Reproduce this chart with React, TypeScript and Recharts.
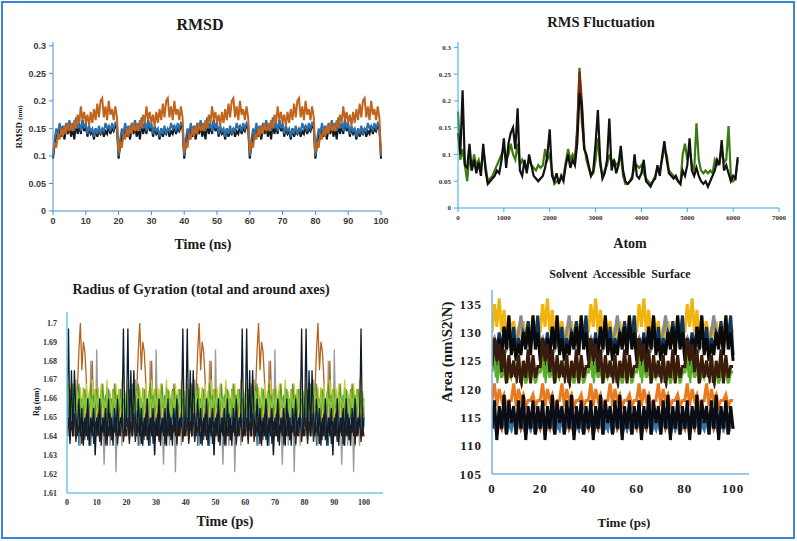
import React from 'react';
import { LineChart, Line, XAxis, YAxis } from 'recharts';

// ---- RMSD (nm): one 20 ns block at 0.5 ns steps, the trace repeats it five times ----
const RMSD_STEP = 0.5;
const RMSD_BLUE_BLOCK = [0.100, 0.130, 0.150, 0.140, 0.160, 0.145, 0.155, 0.140, 0.160, 0.150, 0.165, 0.150, 0.160, 0.145, 0.170, 0.150, 0.160, 0.145, 0.165, 0.150, 0.160, 0.140, 0.155, 0.145, 0.150, 0.135, 0.150, 0.140, 0.155, 0.140, 0.150, 0.145, 0.160, 0.150, 0.155, 0.145, 0.160, 0.150, 0.160, 0.155];
const RMSD_BLACK_BLOCK = [0.095, 0.120, 0.140, 0.130, 0.150, 0.135, 0.145, 0.130, 0.150, 0.140, 0.155, 0.135, 0.150, 0.130, 0.160, 0.140, 0.155, 0.140, 0.165, 0.145, 0.155, 0.135, 0.150, 0.140, 0.145, 0.130, 0.150, 0.135, 0.145, 0.140, 0.150, 0.135, 0.145, 0.140, 0.155, 0.140, 0.150, 0.145, 0.155, 0.150];
const RMSD_ORANGE_BLOCK = [0.105, 0.125, 0.115, 0.140, 0.130, 0.150, 0.135, 0.155, 0.140, 0.160, 0.145, 0.155, 0.145, 0.165, 0.150, 0.175, 0.160, 0.190, 0.165, 0.180, 0.160, 0.175, 0.155, 0.180, 0.160, 0.185, 0.165, 0.195, 0.170, 0.200, 0.205, 0.170, 0.190, 0.165, 0.200, 0.175, 0.185, 0.165, 0.190, 0.170];
const RMSD_TIME_TICKS = [0, 10, 20, 30, 40, 50, 60, 70, 80, 90, 100];
const RMSD_Y_TICKS = [0, 0.05, 0.1, 0.15, 0.2, 0.25, 0.3];

// ---- RMS Fluctuation: every 50 atoms, 0..6100 ----
const RMSF_STEP = 50;
const RMSF_BLACK = [0.14, 0.10, 0.22, 0.08, 0.075, 0.12, 0.07, 0.09, 0.065, 0.085, 0.06, 0.12, 0.07, 0.045, 0.05, 0.055, 0.06, 0.07, 0.065, 0.09, 0.13, 0.075, 0.12, 0.14, 0.15, 0.11, 0.186, 0.07, 0.06, 0.09, 0.065, 0.10, 0.08, 0.06, 0.055, 0.05, 0.055, 0.06, 0.075, 0.10, 0.147, 0.06, 0.05, 0.065, 0.045, 0.06, 0.05, 0.08, 0.10, 0.075, 0.09, 0.08, 0.12, 0.215, 0.19, 0.11, 0.10, 0.08, 0.06, 0.07, 0.12, 0.183, 0.09, 0.055, 0.065, 0.09, 0.167, 0.07, 0.09, 0.065, 0.08, 0.116, 0.07, 0.05, 0.045, 0.05, 0.055, 0.10, 0.06, 0.055, 0.065, 0.09, 0.05, 0.045, 0.04, 0.05, 0.055, 0.08, 0.06, 0.095, 0.125, 0.09, 0.065, 0.06, 0.055, 0.06, 0.05, 0.045, 0.07, 0.06, 0.08, 0.13, 0.07, 0.06, 0.075, 0.06, 0.05, 0.045, 0.05, 0.04, 0.05, 0.06, 0.07, 0.09, 0.08, 0.127, 0.07, 0.08, 0.065, 0.05, 0.06, 0.055, 0.095];
const RMSF_GREEN = [0.18, 0.09, 0.11, 0.08, 0.05, 0.10, 0.07, 0.10, 0.08, 0.09, 0.07, 0.11, 0.08, 0.05, 0.055, 0.06, 0.07, 0.08, 0.09, 0.10, 0.11, 0.09, 0.10, 0.12, 0.10, 0.09, 0.12, 0.08, 0.09, 0.08, 0.07, 0.09, 0.08, 0.075, 0.07, 0.08, 0.075, 0.08, 0.11, 0.09, 0.10, 0.07, 0.045, 0.05, 0.05, 0.055, 0.06, 0.085, 0.11, 0.09, 0.10, 0.09, 0.14, 0.262, 0.16, 0.12, 0.09, 0.075, 0.06, 0.065, 0.09, 0.13, 0.08, 0.06, 0.07, 0.08, 0.10, 0.085, 0.09, 0.08, 0.085, 0.10, 0.06, 0.045, 0.045, 0.05, 0.06, 0.075, 0.08, 0.075, 0.08, 0.065, 0.055, 0.05, 0.045, 0.05, 0.06, 0.075, 0.07, 0.09, 0.11, 0.10, 0.07, 0.065, 0.06, 0.055, 0.05, 0.045, 0.10, 0.12, 0.09, 0.11, 0.08, 0.07, 0.158, 0.09, 0.07, 0.065, 0.07, 0.065, 0.07, 0.065, 0.09, 0.08, 0.085, 0.11, 0.085, 0.09, 0.153, 0.06, 0.05, 0.055, 0.09];
// brown trace only shows at the big peak near atom 2650
const RMSF_BROWN = [null, null, null, null, null, null, null, null, null, null, null, null, null, null, null, null, null, null, null, null, null, null, null, null, null, null, null, null, null, null, null, null, null, null, null, null, null, null, null, null, null, null, null, null, null, null, null, null, null, null, null, 0.085, 0.15, 0.255, 0.20, 0.12];
const RMSF_X_TICKS = [0, 1000, 2000, 3000, 4000, 5000, 6000, 7000];
const RMSF_Y_TICKS = [0, 0.05, 0.1, 0.15, 0.2, 0.25, 0.3];

// ---- Radius of gyration (nm): one 20 ps block at 0.5 ps steps, repeated five times ----
const RG_STEP = 0.5;
const RG_NAVY_BLOCK = [1.65, 1.697, 1.64, 1.675, 1.64, 1.675, 1.65, 1.64, 1.66, 1.64, 1.655, 1.635, 1.65, 1.64, 1.66, 1.635, 1.65, 1.64, 1.655, 1.63, 1.65, 1.64, 1.66, 1.635, 1.65, 1.64, 1.655, 1.635, 1.66, 1.64, 1.65, 1.635, 1.655, 1.64, 1.66, 1.64, 1.65, 1.645, 1.697, 1.64];
const RG_ORANGE_BLOCK = [1.65, 1.665, 1.645, 1.66, 1.64, 1.655, 1.645, 1.665, 1.685, 1.70, 1.675, 1.69, 1.685, 1.67, 1.645, 1.66, 1.64, 1.68, 1.65, 1.665, 1.645, 1.66, 1.65, 1.665, 1.645, 1.66, 1.64, 1.655, 1.645, 1.66, 1.65, 1.665, 1.645, 1.655, 1.64, 1.66, 1.645, 1.655, 1.64, 1.66];
const RG_GREY_BLOCK = [1.655, 1.64, 1.665, 1.645, 1.66, 1.64, 1.67, 1.645, 1.66, 1.635, 1.65, 1.64, 1.665, 1.64, 1.655, 1.635, 1.68, 1.64, 1.66, 1.63, 1.686, 1.645, 1.66, 1.64, 1.65, 1.625, 1.655, 1.64, 1.66, 1.635, 1.65, 1.64, 1.66, 1.621, 1.655, 1.64, 1.665, 1.635, 1.655, 1.64];
const RG_YELLOW_BLOCK = [1.655, 1.668, 1.65, 1.662, 1.645, 1.67, 1.652, 1.66, 1.648, 1.666, 1.655, 1.658, 1.645, 1.668, 1.652, 1.662, 1.648, 1.67, 1.655, 1.66, 1.645, 1.666, 1.652, 1.668, 1.648, 1.66, 1.655, 1.67, 1.645, 1.664, 1.652, 1.66, 1.648, 1.668, 1.655, 1.662, 1.645, 1.67, 1.652, 1.66];
const RG_GREEN_BLOCK = [1.66, 1.652, 1.665, 1.655, 1.668, 1.65, 1.662, 1.655, 1.668, 1.652, 1.66, 1.65, 1.665, 1.655, 1.66, 1.652, 1.668, 1.656, 1.662, 1.65, 1.665, 1.655, 1.66, 1.652, 1.668, 1.655, 1.662, 1.65, 1.665, 1.656, 1.66, 1.652, 1.668, 1.655, 1.662, 1.65, 1.665, 1.655, 1.66, 1.652];
const RG_LIME_BLOCK = [1.655, 1.662, 1.652, 1.665, 1.656, 1.662, 1.65, 1.664, 1.655, 1.66, 1.652, 1.666, 1.654, 1.662, 1.65, 1.664, 1.656, 1.66, 1.652, 1.665, 1.655, 1.662, 1.65, 1.664, 1.656, 1.66, 1.652, 1.666, 1.654, 1.662, 1.65, 1.664, 1.656, 1.66, 1.652, 1.665, 1.655, 1.662, 1.65, 1.664];
const RG_TEAL_BLOCK = [1.645, 1.66, 1.638, 1.655, 1.64, 1.665, 1.642, 1.655, 1.635, 1.66, 1.645, 1.652, 1.638, 1.662, 1.642, 1.655, 1.635, 1.66, 1.645, 1.658, 1.64, 1.665, 1.638, 1.655, 1.645, 1.66, 1.635, 1.652, 1.642, 1.662, 1.638, 1.655, 1.645, 1.66, 1.635, 1.658, 1.642, 1.665, 1.64, 1.655];
const RG_BROWN_BLOCK = [1.64, 1.65, 1.636, 1.648, 1.64, 1.652, 1.637, 1.646, 1.642, 1.65, 1.636, 1.648, 1.64, 1.652, 1.638, 1.646, 1.642, 1.65, 1.636, 1.648, 1.64, 1.652, 1.637, 1.646, 1.642, 1.65, 1.636, 1.648, 1.64, 1.652, 1.638, 1.646, 1.642, 1.65, 1.636, 1.648, 1.64, 1.652, 1.637, 1.646];
const RG_X_TICKS = [0, 10, 20, 30, 40, 50, 60, 70, 80, 90, 100];
const RG_Y_TICKS = [1.61, 1.62, 1.63, 1.64, 1.65, 1.66, 1.67, 1.68, 1.69, 1.7];

// ---- Solvent accessible surface (nm^2): one 20 ps block at 1 ps steps, repeated five times ----
const SAS_STEP = 1;
const SAS_YELLOW_BLOCK = [130, 135, 131, 136, 130, 134, 129, 133, 130, 132, 128, 131, 129, 132, 128, 131, 130, 133, 129, 131];
const SAS_GREY_BLOCK = [128, 129, 127, 128, 128, 129, 127, 128, 128, 129, 128, 130, 133, 129, 128, 129, 127, 132, 128, 128];
const SAS_NAVY_BLOCK = [126, 129, 127, 130, 126, 131, 128, 132, 127, 131, 126, 129, 127, 130, 129, 132, 128, 131, 129, 133];
const SAS_BLACK_HI_BLOCK = [125, 128, 124, 129, 126, 131, 127, 133, 126, 129, 125, 128, 126, 130, 127, 131, 126, 133, 127, 130];
const SAS_GREEN_BLOCK = [123, 126, 121, 125, 122, 124, 121, 123, 122, 125, 121, 126, 122, 124, 121, 123, 122, 124, 121, 123];
const SAS_BROWN_BLOCK = [124, 129, 125, 128, 123, 127, 121, 126, 122, 125, 121, 126, 120, 125, 122, 127, 121, 126, 122, 124];
const SAS_WHITE_BLOCK = [119, 122, 118, 121, 119, 120, 118, 121, 119, 122, 118, 121, 119, 120, 118, 119, 118, 120, 119, 121];
const SAS_ORANGE_BLOCK = [118, 121, 117, 120, 118, 119, 117, 118, 118, 121, 117, 120, 118, 119, 117, 118, 118, 119, 117, 118];
const SAS_BLACK_LO_BLOCK = [113, 118, 111, 117, 113, 119, 112, 118, 114, 117, 112, 118, 113, 119, 111, 117, 113, 118, 112, 117];
const SAS_BLUE_BLOCK = [113, 116, 112, 115, 113, 116, 112, 114, 113, 115, 112, 116, 113, 115, 112, 114, 113, 116, 112, 115];
const SAS_RUST_BLOCK = [113, 115, 112, 114, 113, 115, 112, 114, 113, 116, 112, 115, 113, 114, 112, 115, 113, 114, 112, 114];
const SAS_X_TICKS = [0, 20, 40, 60, 80, 100];
const SAS_Y_TICKS = [105, 110, 115, 120, 125, 130, 135];

// the traces in the figure are the same block pasted five times end to end
const fiveBlocks = (b: number[]) => [...b, ...b, ...b, ...b, ...b, b[0]];

const rmsdData = fiveBlocks(RMSD_BLUE_BLOCK).map((v, i) => ({
  t: i * RMSD_STEP,
  blue: v,
  black: fiveBlocks(RMSD_BLACK_BLOCK)[i],
  orange: fiveBlocks(RMSD_ORANGE_BLOCK)[i],
}));

const rmsfData = RMSF_BLACK.map((v, i) => ({
  atom: i * RMSF_STEP,
  black: v,
  green: RMSF_GREEN[i],
  brown: RMSF_BROWN[i] ?? null,
}));

const RG_SERIES = [
  { key: 'grey', block: RG_GREY_BLOCK, color: '#9a9a98' },
  { key: 'orange', block: RG_ORANGE_BLOCK, color: '#b5651d' },
  { key: 'teal', block: RG_TEAL_BLOCK, color: '#2b6f98' },
  { key: 'yellow', block: RG_YELLOW_BLOCK, color: '#e3c32c' },
  { key: 'green', block: RG_GREEN_BLOCK, color: '#4f9a2a' },
  { key: 'lime', block: RG_LIME_BLOCK, color: '#8cc63f' },
  { key: 'brown', block: RG_BROWN_BLOCK, color: '#3a2010' },
  { key: 'navy', block: RG_NAVY_BLOCK, color: '#0e1c2c' },
];
const rgData = fiveBlocks(RG_NAVY_BLOCK).map((_, i) => {
  const row: Record<string, number> = { t: i * RG_STEP };
  RG_SERIES.forEach((s) => { row[s.key] = fiveBlocks(s.block)[i]; });
  return row;
});

const SAS_SERIES = [
  { key: 'yellow', block: SAS_YELLOW_BLOCK, color: '#f0b310' },
  { key: 'grey', block: SAS_GREY_BLOCK, color: '#8a8a8a' },
  { key: 'navy', block: SAS_NAVY_BLOCK, color: '#0e3461' },
  { key: 'blackHi', block: SAS_BLACK_HI_BLOCK, color: '#0a0a0a' },
  { key: 'green', block: SAS_GREEN_BLOCK, color: '#5aae2c' },
  { key: 'brown', block: SAS_BROWN_BLOCK, color: '#3b1c0c' },
  { key: 'white', block: SAS_WHITE_BLOCK, color: '#ffffff' },
  { key: 'orange', block: SAS_ORANGE_BLOCK, color: '#e97b1f' },
  { key: 'rust', block: SAS_RUST_BLOCK, color: '#b85a1a' },
  { key: 'blue', block: SAS_BLUE_BLOCK, color: '#2a78b4' },
  { key: 'blackLo', block: SAS_BLACK_LO_BLOCK, color: '#0b0c14' },
];
const sasData = fiveBlocks(SAS_YELLOW_BLOCK).map((_, i) => {
  const row: Record<string, number> = { t: i * SAS_STEP };
  SAS_SERIES.forEach((s) => { row[s.key] = fiveBlocks(s.block)[i]; });
  return row;
});

const SERIF = '"Liberation Serif", "DejaVu Serif", serif';
const fmt = (v: number) => String(Number(v.toFixed(3)));

const Txt: React.FC<{ x: number; y: number; size: number; rotate?: boolean; style?: React.CSSProperties; children: React.ReactNode }> = ({ x, y, size, rotate, style, children }) => (
  <div
    style={{
      position: 'absolute',
      left: x,
      top: y,
      transform: `translate(-50%, -50%)${rotate ? ' rotate(-90deg)' : ''}`,
      whiteSpace: 'nowrap',
      fontFamily: SERIF,
      fontWeight: 'bold',
      fontSize: size,
      color: '#1a1a1a',
      lineHeight: 1,
      ...style,
    }}
  >
    {children}
  </div>
);

const Box: React.FC<{ left: number; top: number; children: React.ReactNode }> = ({ left, top, children }) => (
  <div style={{ position: 'absolute', left, top }}>{children}</div>
);

export default function App() {
  return (
    <div style={{ position: 'fixed', left: 0, top: 0, width: 797, height: 541, background: '#fff', overflow: 'hidden' }}>
      <div style={{ position: 'absolute', left: 1, top: 1, width: 794, height: 538, boxSizing: 'border-box', border: '2px solid #3a86d4' }} />

      {/* RMSD */}
      <Box left={0} top={0}>
        <LineChart width={400} height={260} data={rmsdData} margin={{ top: 42, right: 19, bottom: 0, left: 0 }}>
          <XAxis dataKey="t" type="number" domain={[0, 100]} ticks={RMSD_TIME_TICKS} interval={0} height={49}
            stroke="#4a90d0" tickSize={4} tickMargin={3}
            tick={{ fontSize: 9, fontWeight: 'bold', fill: '#3a3a3a', fontFamily: '"Liberation Sans", Arial, sans-serif' }} />
          <YAxis type="number" domain={[0, 0.307]} ticks={RMSD_Y_TICKS} interval={0} width={53} tickFormatter={fmt}
            stroke="#4a90d0" tickSize={4} tickMargin={3} allowDataOverflow
            tick={{ fontSize: 9, fontWeight: 'bold', fill: '#3a3a3a', fontFamily: '"Liberation Sans", Arial, sans-serif' }} />
          <Line dataKey="black" stroke="#101820" strokeWidth={2} dot={false} isAnimationActive={false} />
          <Line dataKey="blue" stroke="#2f6fa8" strokeWidth={2} dot={false} isAnimationActive={false} />
          <Line dataKey="orange" stroke="#c0641e" strokeWidth={2} dot={false} isAnimationActive={false} />
        </LineChart>
      </Box>
      <Txt x={200} y={25} size={16}>RMSD</Txt>
      <Txt x={203} y={245} size={14}>Time (ns)</Txt>
      <Txt x={19} y={127} size={9} rotate>RMSD <span style={{ fontSize: 7 }}>(nm)</span></Txt>

      {/* RMS Fluctuation */}
      <Box left={400} top={0}>
        <LineChart width={397} height={260} data={rmsfData} margin={{ top: 42, right: 18, bottom: 0, left: 0 }}>
          <XAxis dataKey="atom" type="number" domain={[0, 7000]} ticks={RMSF_X_TICKS} interval={0} height={52}
            stroke="#30b0e8" tickSize={4} tickMargin={3}
            tick={{ fontSize: 7, fontWeight: 'bold', fill: '#333', fontFamily: SERIF }} />
          <YAxis type="number" domain={[0, 0.31]} ticks={RMSF_Y_TICKS} interval={0} width={58} tickFormatter={fmt}
            stroke="#30b0e8" tickSize={4} tickMargin={3} allowDataOverflow
            tick={{ fontSize: 7, fontWeight: 'bold', fill: '#333', fontFamily: SERIF }} />
          <Line dataKey="green" stroke="#3d7a12" strokeWidth={2.2} dot={false} isAnimationActive={false} />
          <Line dataKey="brown" stroke="#7a2a10" strokeWidth={2.2} dot={false} isAnimationActive={false} />
          <Line dataKey="black" stroke="#111111" strokeWidth={2.2} dot={false} isAnimationActive={false} />
        </LineChart>
      </Box>
      <Txt x={601} y={22} size={14.5}>RMS Fluctuation</Txt>
      <Txt x={630} y={244} size={14}>Atom</Txt>

      {/* Radius of gyration */}
      <Box left={0} top={260}>
        <LineChart width={400} height={281} data={rgData} margin={{ top: 52, right: 17, bottom: 0, left: 0 }}>
          <XAxis dataKey="t" type="number" domain={[0, 106.4]} ticks={RG_X_TICKS} interval={0} height={48}
            stroke="#6cc8ec" strokeWidth={1.5} tickLine={false} tickSize={0} tickMargin={6} allowDataOverflow
            tick={{ fontSize: 8, fontWeight: 'bold', fill: '#333', fontFamily: SERIF }} />
          <YAxis type="number" domain={[1.61, 1.7058]} ticks={RG_Y_TICKS} interval={0} width={67} tickFormatter={fmt}
            stroke="#6cc8ec" strokeWidth={1.5} tickLine={false} tickSize={0} tickMargin={10} allowDataOverflow
            tick={{ fontSize: 8, fontWeight: 'bold', fill: '#333', fontFamily: SERIF }} />
          {RG_SERIES.map((s) => (
            <Line key={s.key} dataKey={s.key} stroke={s.color} strokeWidth={1.3} dot={false} isAnimationActive={false} />
          ))}
        </LineChart>
      </Box>
      <Txt x={201} y={290} size={14}>Radius of Gyration (total and around axes)</Txt>
      <Txt x={225} y={522} size={14}>Time (ps)</Txt>
      <Txt x={37} y={402} size={8} rotate>Rg (nm)</Txt>

      {/* Solvent accessible surface */}
      <Box left={400} top={260}>
        <LineChart width={397} height={281} data={sasData} margin={{ top: 30, right: 48, bottom: 0, left: 0 }}>
          <XAxis dataKey="t" type="number" domain={[0, 106.6]} ticks={SAS_X_TICKS} interval={0} height={67}
            stroke="#78b4e4" strokeWidth={1.5} tickLine={false} tickSize={0} tickMargin={10} allowDataOverflow
            tick={{ fontSize: 13, fontWeight: 'bold', fill: '#222', fontFamily: SERIF, letterSpacing: 1 }} />
          <YAxis type="number" domain={[105, 137.5]} ticks={SAS_Y_TICKS} interval={0} width={92}
            stroke="#78b4e4" strokeWidth={1.5} tickLine={false} tickSize={0} tickMargin={10} allowDataOverflow
            tick={{ fontSize: 13, fontWeight: 'bold', fill: '#222', fontFamily: SERIF, letterSpacing: 1 }} />
          {SAS_SERIES.map((s) => (
            <Line key={s.key} dataKey={s.key} stroke={s.color} strokeWidth={3} dot={false} isAnimationActive={false} />
          ))}
        </LineChart>
      </Box>
      <Txt x={620} y={274} size={12} style={{ wordSpacing: 3 }}>Solvent Accessible Surface</Txt>
      <Txt x={624} y={522} size={13}>Time (ps)</Txt>
      <Txt x={447} y={352} size={15} rotate>{'Area (nm\\S2\\N)'}</Txt>
    </div>
  );
}
